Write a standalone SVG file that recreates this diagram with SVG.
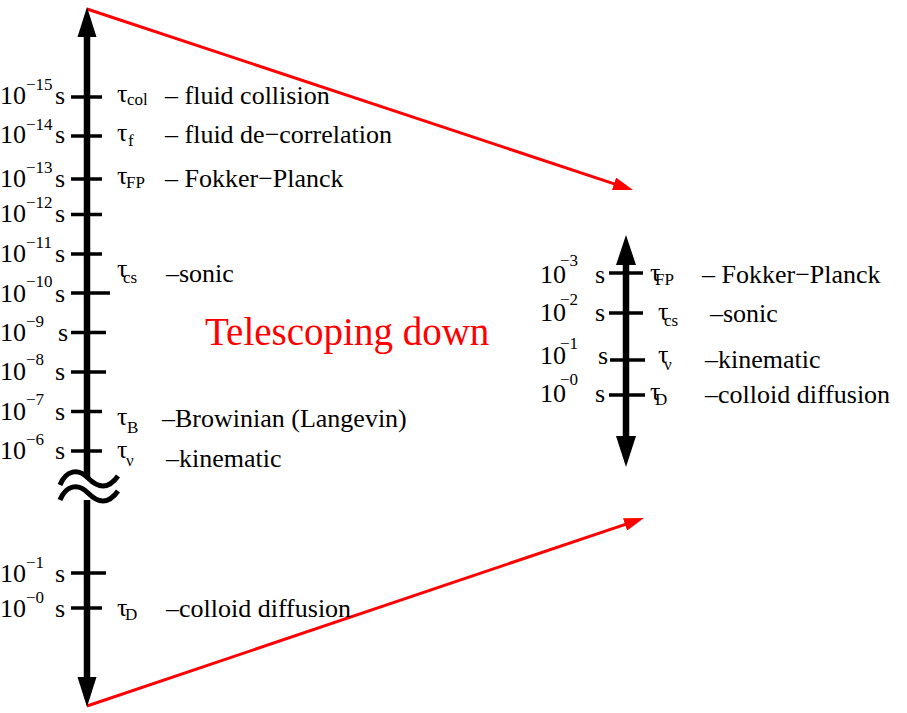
<svg xmlns="http://www.w3.org/2000/svg" width="907" height="713" viewBox="0 0 907 713">
<style>
text{font-family:"Liberation Serif","Times New Roman",serif;fill:#000}
.m{font-size:26px}
.s{font-size:17px}
.t{font-size:39px;fill:#ff0000}
.axis{stroke:#000;stroke-width:6.5;fill:none}
.tick{stroke:#000;stroke-width:3.5;fill:none}
.wave{stroke:#000;stroke-width:5;fill:none}
.red{stroke:#ff0000;stroke-width:3;fill:none}
</style>
<defs>
<marker id="ra" viewBox="0 0 20 13" refX="5" refY="6.5" markerWidth="20" markerHeight="13" markerUnits="userSpaceOnUse" orient="auto">
<path d="M0,0 L20,6.5 L0,13 z" fill="#ff0000"/>
</marker>
</defs>
<rect width="907" height="713" fill="#fff"/>

<g id="connectors">
<line class="red" x1="87" y1="9" x2="618.8" y2="185.3" marker-end="url(#ra)"/>
<line class="red" x1="87" y1="706" x2="629.8" y2="522.8" marker-end="url(#ra)"/>
</g>

<g id="left-axis">
<line class="axis" x1="87" y1="34" x2="87" y2="478"/>
<line class="axis" x1="87" y1="500" x2="87" y2="680"/>
<polygon points="87,7 77.5,37 96.5,37" fill="#000"/>
<polygon points="87,707 77.5,677 96.5,677" fill="#000"/>
<path class="wave" d="M60,485 C66,470 78,468 88,478 C98,488 108,490 118,476"/>
<path class="wave" d="M60,500 C66,485 78,483 88,493 C98,503 108,505 118,491"/>
<g id="left-ticks">
<line class="tick" x1="71" y1="97" x2="102" y2="97"/>
<line class="tick" x1="71" y1="136" x2="102" y2="136"/>
<line class="tick" x1="71" y1="179" x2="102" y2="179"/>
<line class="tick" x1="71" y1="214.5" x2="102" y2="214.5"/>
<line class="tick" x1="71" y1="254" x2="102" y2="254"/>
<line class="tick" x1="71" y1="293" x2="110" y2="293"/>
<line class="tick" x1="71" y1="332.5" x2="106" y2="332.5"/>
<line class="tick" x1="71" y1="372" x2="106" y2="372"/>
<line class="tick" x1="71" y1="411.5" x2="102" y2="411.5"/>
<line class="tick" x1="71" y1="451" x2="102" y2="451"/>
<line class="tick" x1="71" y1="573" x2="106" y2="573"/>
<line class="tick" x1="71" y1="608" x2="102" y2="608"/>
</g>
</g>

<g id="left-scale-labels">
<text class="m" x="0" y="104">10</text><text class="s" x="26" y="90">−15</text><text class="m" x="55" y="104">s</text>
<text class="m" x="0" y="143">10</text><text class="s" x="26" y="130">−14</text><text class="m" x="55" y="143">s</text>
<text class="m" x="0" y="187">10</text><text class="s" x="26" y="173">−13</text><text class="m" x="55" y="187">s</text>
<text class="m" x="0" y="222">10</text><text class="s" x="26" y="208">−12</text><text class="m" x="55" y="222">s</text>
<text class="m" x="0" y="262">10</text><text class="s" x="26" y="248">−11</text><text class="m" x="55" y="262">s</text>
<text class="m" x="0" y="302">10</text><text class="s" x="26" y="287">−10</text><text class="m" x="55" y="302">s</text>
<text class="m" x="0" y="341">10</text><text class="s" x="26" y="327">−9</text><text class="m" x="58" y="341">s</text>
<text class="m" x="0" y="380">10</text><text class="s" x="26" y="365">−8</text><text class="m" x="55" y="380">s</text>
<text class="m" x="0" y="420">10</text><text class="s" x="26" y="405">−7</text><text class="m" x="55" y="420">s</text>
<text class="m" x="0" y="459">10</text><text class="s" x="26" y="445">−6</text><text class="m" x="55" y="459">s</text>
<text class="m" x="0" y="582">10</text><text class="s" x="26" y="568">−1</text><text class="m" x="55" y="582">s</text>
<text class="m" x="0" y="617">10</text><text class="s" x="26" y="603">−0</text><text class="m" x="55" y="617">s</text>
</g>

<g id="left-descriptions">
<g id="tau-col"><text class="m" x="117" y="102">τ</text><text class="s" x="127" y="105">col</text><text class="m" x="165" y="104">– fluid collision</text></g>
<g id="tau-f"><text class="m" x="117" y="141">τ</text><text class="s" x="128" y="146">f</text><text class="m" x="165" y="143">– fluid de−correlation</text></g>
<g id="tau-fp"><text class="m" x="117" y="184">τ</text><text class="s" x="126" y="188">FP</text><text class="m" x="165" y="187">– Fokker−Planck</text></g>
<g id="tau-cs"><text class="m" x="117" y="277">τ</text><text class="s" x="123" y="283">cs</text><text class="m" x="166" y="282">–sonic</text></g>
<g id="tau-b"><text class="m" x="117" y="425">τ</text><text class="s" x="127" y="433">B</text><text class="m" x="162" y="427">–Browinian (Langevin)</text></g>
<g id="tau-nu"><text class="m" x="117" y="458">τ</text><text class="s" x="126" y="466">ν</text><text class="m" x="166" y="467">–kinematic</text></g>
<g id="tau-d"><text class="m" x="117" y="616">τ</text><text class="s" x="125" y="620">D</text><text class="m" x="166" y="617">–colloid diffusion</text></g>
</g>

<g id="title">
<text class="t" x="205" y="345">Telescoping down</text>
</g>

<g id="right-axis">
<line class="axis" x1="626" y1="262" x2="626" y2="438"/>
<polygon points="626,235 616,265 636,265" fill="#000"/>
<polygon points="626,467 616,436 636,436" fill="#000"/>
<line class="tick" x1="609" y1="273" x2="643" y2="273"/>
<line class="tick" x1="609" y1="313" x2="643" y2="313"/>
<line class="tick" x1="610" y1="360" x2="645" y2="360"/>
<line class="tick" x1="609" y1="395" x2="645" y2="395"/>
</g>

<g id="right-scale-labels">
<text class="m" x="540" y="283">10</text><text class="s" x="560" y="266">−3</text><text class="m" x="595" y="283">s</text>
<text class="m" x="540" y="321">10</text><text class="s" x="560" y="305">−2</text><text class="m" x="595" y="321">s</text>
<text class="m" x="540" y="364">10</text><text class="s" x="560" y="349">−1</text><text class="m" x="598" y="364">s</text>
<text class="m" x="540" y="402">10</text><text class="s" x="560" y="385">−0</text><text class="m" x="595" y="402">s</text>
</g>

<g id="right-descriptions">
<g id="r-tau-fp"><text class="m" x="650" y="281">τ</text><text class="s" x="655" y="285">FP</text><text class="m" x="702" y="283">– Fokker−Planck</text></g>
<g id="r-tau-cs"><text class="m" x="658" y="320">τ</text><text class="s" x="664" y="326">cs</text><text class="m" x="710" y="322">–sonic</text></g>
<g id="r-tau-nu"><text class="m" x="658" y="363">τ</text><text class="s" x="664" y="370">ν</text><text class="m" x="705" y="368">–kinematic</text></g>
<g id="r-tau-d"><text class="m" x="650" y="400">τ</text><text class="s" x="655" y="405">D</text><text class="m" x="705" y="403">–colloid diffusion</text></g>
</g>
</svg>
